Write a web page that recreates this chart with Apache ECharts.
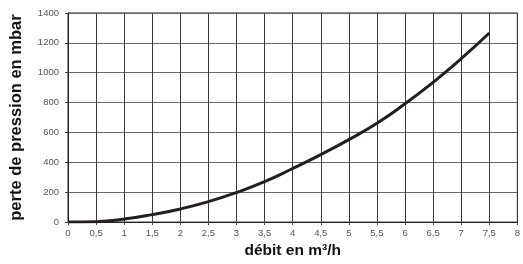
<!DOCTYPE html>
<html><head><meta charset="utf-8">
<script src="https://cdn.jsdelivr.net/npm/echarts@6/dist/echarts.min.js"></script>
<style>html,body{margin:0;padding:0;background:#fff}#c{width:523px;height:264px}</style>
</head><body><div id="c"></div>
<script>
var flowValues = [0, 0.5, 1, 1.5, 2, 2.5, 3, 3.5, 4, 4.5, 5, 5.5, 6, 6.5, 7, 7.5];
var pressureValues = [0, 3, 20, 50, 88, 137, 198, 271, 359, 452, 552, 662, 792, 936, 1094, 1266];
var xTitle = 'débit en m³/h';
var yTitle = 'perte de pression en mbar';

var chart = echarts.init(document.getElementById('c'), null, {renderer: 'canvas'});
var font = 'Liberation Sans, Arial, Helvetica, sans-serif';
chart.setOption({
  animation: false,
  grid: {left: 68, right: 1, top: 13, bottom: 39, show: true, borderColor: '#222', borderWidth: 1},
  xAxis: {
    type: 'value', min: 0, max: 8, interval: 0.5,
    name: xTitle, nameLocation: 'middle', nameGap: 19,
    nameTextStyle: {fontFamily: font, fontWeight: 'bold', fontSize: 15.5, color: '#111'},
    axisLine: {show: true, onZero: false, lineStyle: {color: '#222', width: 1}},
    axisTick: {show: true, length: 3, lineStyle: {color: '#444'}},
    axisLabel: {fontFamily: font, fontSize: 9.5, color: '#555', margin: 6,
      formatter: function (v) { return String(v).replace('.', ','); }},
    splitLine: {show: true, lineStyle: {color: '#3a3a3a', width: 1}}
  },
  yAxis: {
    type: 'value', min: 0, max: 1400, interval: 200,
    name: yTitle, nameLocation: 'middle', nameGap: 43, nameRotate: 90,
    nameTextStyle: {fontFamily: font, fontWeight: 'bold', fontSize: 16.5, color: '#111'},
    axisLine: {show: true, lineStyle: {color: '#222', width: 1}},
    axisTick: {show: true, length: 3, lineStyle: {color: '#444'}},
    axisLabel: {fontFamily: font, fontSize: 9.5, color: '#555', margin: 9,
      formatter: function (v) { return String(v); }},
    splitLine: {show: true, lineStyle: {color: '#6a6a6a', width: 1}}
  },
  series: [{
    type: 'line', smooth: true, showSymbol: false,
    data: flowValues.map(function (x, i) { return [x, pressureValues[i]]; }),
    lineStyle: {color: '#231f20', width: 3}
  }]
});
</script></body></html>
